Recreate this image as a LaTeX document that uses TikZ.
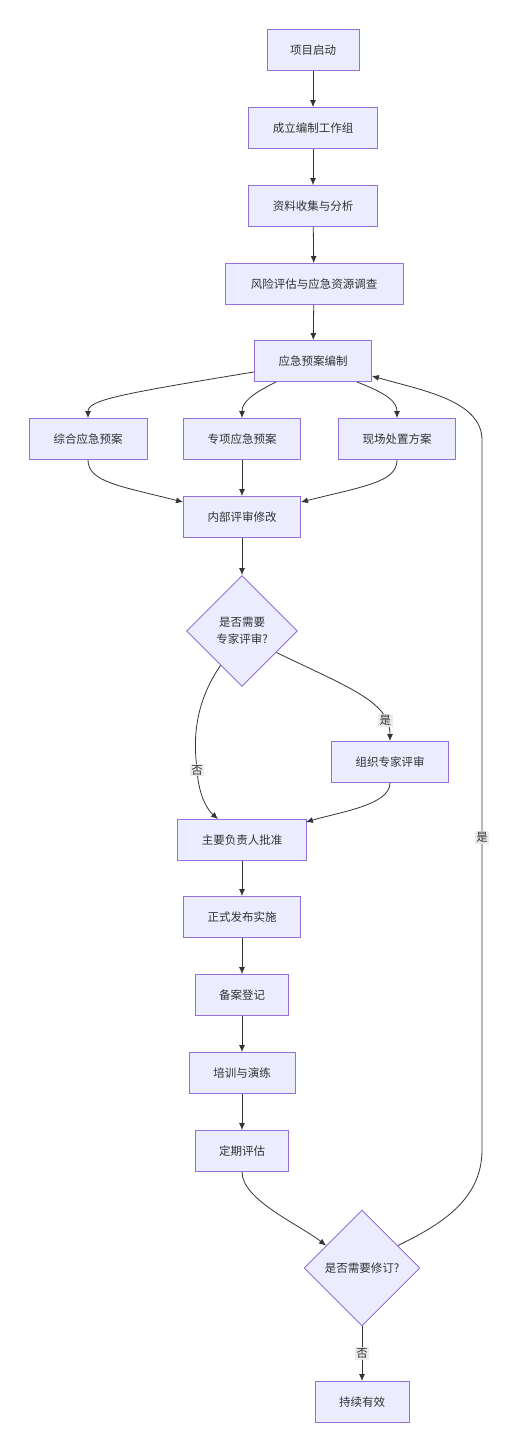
\documentclass[tikz,border=0pt]{standalone}
\usepackage{fontspec}
\setmainfont{Noto Sans CJK SC}
\usetikzlibrary{shapes.geometric,arrows.meta}
\definecolor{nodefill}{HTML}{ECECFF}
\definecolor{nodeline}{HTML}{9370DB}
\definecolor{edgecol}{HTML}{333333}
\definecolor{lblbg}{HTML}{E8E8E8}
\tikzset{
  box/.style={draw=nodeline, fill=nodefill, line width=0.9pt, minimum height=41pt, inner sep=0pt, font=\fontsize{11.5}{14}\selectfont, text=edgecol},
  dia/.style={draw=nodeline, fill=nodefill, line width=0.9pt, diamond, shape aspect=1, inner sep=0pt, align=center, font=\fontsize{11.5}{17}\selectfont, text=edgecol},
  conn/.style={draw=edgecol, line width=0.8pt, -{Latex[length=7pt,width=6pt]}},
  lbl/.style={fill=lblbg, fill opacity=0.85, text opacity=1, inner sep=1.5pt, font=\fontsize{11.5}{14}\selectfont, text=edgecol}
}
\begin{document}
\begin{tikzpicture}[x=1pt,y=-1pt]
\useasboundingbox (0,0) rectangle (517,1452);
\node[box, minimum width=92pt] (n1) at (313,50) {项目启动};
\node[box, minimum width=129pt] (n2) at (313,128) {成立编制工作组};
\node[box, minimum width=129pt] (n3) at (313,206) {资料收集与分析};
\node[box, minimum width=178pt] (n4) at (314,284) {风险评估与应急资源调查};
\node[box, minimum width=117pt] (n5) at (313,361) {应急预案编制};
\node[box, minimum width=118pt] (n6) at (88,439) {综合应急预案};
\node[box, minimum width=117pt] (n7) at (242,439) {专项应急预案};
\node[box, minimum width=117pt] (n8) at (397,439) {现场处置方案};
\node[box, minimum width=117pt] (n9) at (242,517) {内部评审修改};
\node[dia, minimum width=111pt, minimum height=111pt] (d1) at (242,631) {是否需要\\专家评审?};
\node[box, minimum width=117pt] (n10) at (390,762) {组织专家评审};
\node[box, minimum width=129pt] (n11) at (242,840) {主要负责人批准};
\node[box, minimum width=117pt] (n12) at (242,917) {正式发布实施};
\node[box, minimum width=93pt] (n13) at (242,995) {备案登记};
\node[box, minimum width=106pt] (n14) at (242,1073) {培训与演练};
\node[box, minimum width=93pt] (n15) at (242,1151) {定期评估};
\node[dia, minimum width=116pt, minimum height=116pt] (d2) at (362,1268) {是否需要修订?};
\node[box, minimum width=94pt] (n16) at (362,1402) {持续有效};

\coordinate (a5) at ([yshift=10pt]n5.south west);
\coordinate (b5) at ([yshift=6pt]n5.south east);

\draw[conn] (n1) -- (n2);
\draw[conn] (n2) -- (n3);
\draw[conn] (n3) -- (n4);
\draw[conn] (n4) -- (n5);
\draw[conn] (a5) .. controls (120,394) and (88,400) .. (n6.north);
\draw[conn] ([xshift=-37pt]n5.south) .. controls (252,394) and (242,402) .. (n7.north);
\draw[conn] ([xshift=44pt]n5.south) .. controls (388,394) and (397,402) .. (n8.north);
\draw[conn] (n6.south) .. controls (88,482) and (120,486) .. ([yshift=-6pt]n9.south west |- n9.north);
\draw[conn] (n7) -- (n9);
\draw[conn] (n8.south) .. controls (397,482) and (365,486) .. ([yshift=-6pt]n9.south east |- n9.north);
\draw[conn] (n9) -- (d1);
\draw[conn] (d1.-32) .. controls (350,688) and (390,702) .. (n10.north) node[lbl, pos=0.8] {是};
\draw[conn] (d1.-122) .. controls (190,710) and (195,750) .. (197,770) .. controls (199,800) and (210,812) .. ([xshift=-24pt]n11.north) node[lbl, pos=0.0] {否};
\draw[conn] (n10.south) .. controls (390,805) and (340,812) .. ([yshift=-3pt,xshift=-1pt]n11.north east);
\draw[conn] (n11) -- (n12);
\draw[conn] (n12) -- (n13);
\draw[conn] (n13) -- (n14);
\draw[conn] (n14) -- (n15);
\draw[conn] (n15.south) .. controls (242,1200) and (300,1225) .. (d2.148);
\draw[conn] (d2) -- (n16) node[lbl, midway] {否};
\draw[conn] (d2.32) .. controls (440,1225) and (482,1200) .. (482,1150) -- (482,440) coordinate[pos=0.44] (lb) .. controls (482,400) and (420,390) .. (b5);
\node[lbl] (lbl1) at (lb) {是};
\end{tikzpicture}
\end{document}
